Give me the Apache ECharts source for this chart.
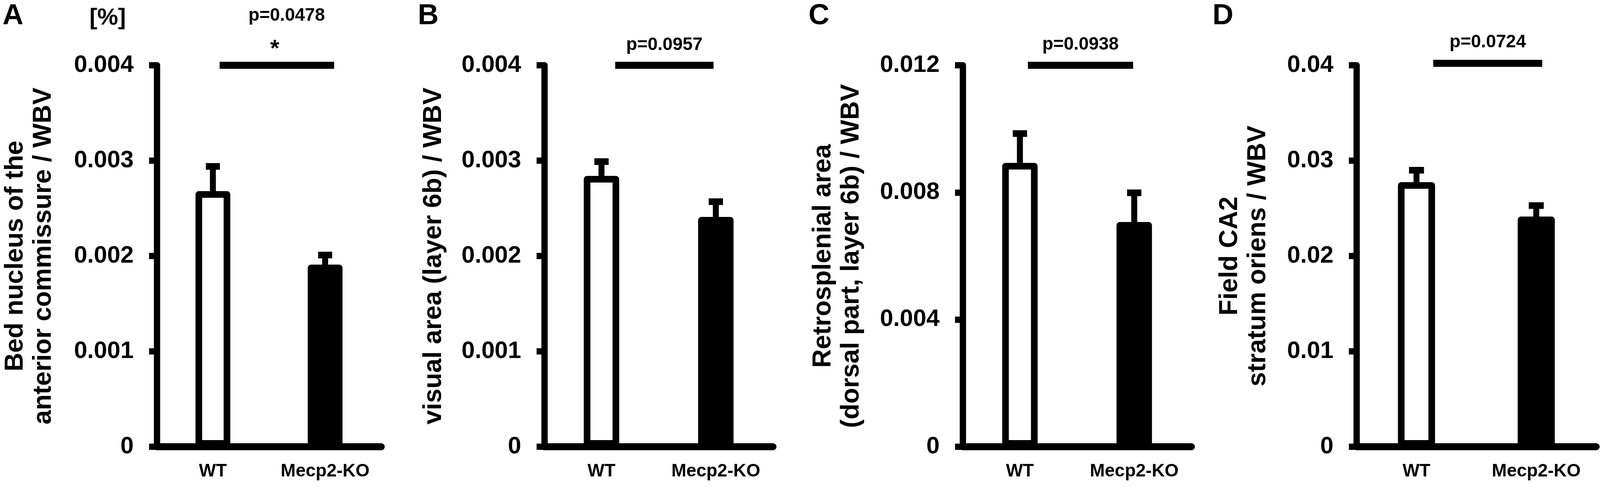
<!DOCTYPE html>
<html>
<head>
<meta charset="utf-8">
<script src="https://cdn.jsdelivr.net/npm/echarts@6/dist/echarts.min.js"></script>
<style>
  html, body { margin: 0; padding: 0; background: #fff; overflow: hidden; }
  #main { width: 100vw; height: 100vh; }
</style>
</head>
<body>
<div id="main"></div>
<script>
// data
var categories = ['WT', 'Mecp2-KO'];
var panelLetters = ['A', 'B', 'C', 'D'];
var yTitles = [
    'Bed nucleus of the\nanterior commissure / WBV',
    'visual area (layer 6b) / WBV',
    'Retrosplenial area\n(dorsal part, layer 6b) / WBV',
    'Field CA2\nstratum oriens / WBV'
];
var meansA = [0.00268, 0.00191];
var semA = [0.00026, 0.00010];
var meansB = [0.00284, 0.00241];
var semB = [0.00015, 0.00016];
var meansC = [0.00893, 0.00707];
var semC = [0.00092, 0.00092];
var meansD = [0.02775, 0.02414];
var semD = [0.00125, 0.00115];
var yMax = [0.004, 0.004, 0.012, 0.04];
var yInterval = [0.001, 0.001, 0.004, 0.01];
var pValues = ['p=0.0478', 'p=0.0957', 'p=0.0938', 'p=0.0724'];
var sigMarks = ['*', '', '', ''];
var sigY = [0.004, 0.004, 0.012, 0.0402];

var means = [meansA, meansB, meansC, meansD];
var sems = [semA, semB, semC, semD];

// layout measured on the 4562x1246 figure, scaled to the real window
var W = window.innerWidth, H = window.innerHeight;
var sx = W / 4562, sy = H / 1246;
var layout = [
    { left: 447, width: 640, gap: 283, sig: [0.06, 1.08], pDy: -127, letter: [37, 42] },
    { left: 1552, width: 652, gap: 275, sig: [0.12, 0.98], pDy: -52, letter: [1221, 42] },
    { left: 2745, width: 652, gap: 277, sig: [0.07, 0.99], pDy: -53, letter: [2335, 42] },
    { left: 3868, width: 683, gap: 241, sig: [0.14, 1.05], pDy: -54, letter: [3487, 42] }
];
var FONT = '"Liberation Sans", Arial, sans-serif';
var LW = 17;

var chart = echarts.init(document.getElementById('main'));

function errorBar(params, api) {
    var x = api.value(0), m = api.value(1), e = api.value(2);
    var base = api.coord([x, m]);
    var top = api.coord([x, m + e]);
    var band = api.size([1, 0])[0];
    var capW = band * 0.125;
    var sw = 17 * sx, ch = 17 * sy;
    return {
        type: 'group',
        children: [
            { type: 'rect', shape: { x: base[0] - sw / 2, y: top[1], width: sw, height: base[1] - top[1] }, style: { fill: '#000' } },
            { type: 'rect', shape: { x: base[0] - capW / 2, y: top[1] - ch / 2, width: capW, height: ch }, style: { fill: '#000' } }
        ]
    };
}

function sigBar(i) {
    return function (params, api) {
        var y = api.value(1);
        var p0 = api.coord([0, y]);
        var p1 = api.coord([1, y]);
        var band = p1[0] - p0[0];
        var x0 = p0[0] + layout[i].sig[0] * band;
        var x1 = p0[0] + layout[i].sig[1] * band;
        var cx = (x0 + x1) / 2;
        var th = 18 * sy;
        var kids = [
            { type: 'rect', shape: { x: x0, y: p0[1] - th / 2, width: x1 - x0, height: th }, style: { fill: '#000' } },
            { type: 'text', x: cx + (i === 0 ? 28 * sx : 0), y: p0[1] + layout[i].pDy * sy,
              style: { text: pValues[i], align: 'center', verticalAlign: 'middle', font: 'bold 46px ' + FONT, fill: '#000' } }
        ];
        if (sigMarks[i]) {
            kids.push({ type: 'text', x: cx - 6 * sx, y: p0[1] - 41 * sy,
                style: { text: sigMarks[i], align: 'center', verticalAlign: 'middle', font: 'bold 60px ' + FONT, fill: '#000' } });
        }
        return { type: 'group', children: kids };
    };
}

var grids = [], xAxes = [], yAxes = [], series = [], graphics = [];
for (var i = 0; i < 4; i++) {
    grids.push({ left: layout[i].left * sx, width: layout[i].width * sx, top: 167 * sy, bottom: 103 * sy, outerBoundsMode: 'none' });
    xAxes.push({
        type: 'category', gridIndex: i, data: categories,
        axisLine: { lineStyle: { color: '#000', width: 18 * sy } },
        axisTick: { show: false },
        axisLabel: { interval: 0, hideOverlap: false, margin: 40 * sy, fontSize: 46, fontWeight: 'bold', fontFamily: FONT, color: '#000' }
    });
    yAxes.push({
        type: 'value', gridIndex: i, min: 0, max: yMax[i], interval: yInterval[i],
        splitLine: { show: false },
        axisLine: { show: true, lineStyle: { color: '#000', width: 18 * sx } },
        axisTick: { show: true, length: 22 * sx, lineStyle: { color: '#000', width: 16 * sy } },
        axisLabel: { margin: 66 * sx, fontSize: 61, fontWeight: 'bold', fontFamily: FONT, color: '#000' },
        name: yTitles[i], nameLocation: 'middle', nameRotate: 90, nameGap: layout[i].gap * sx,
        nameTextStyle: { fontSize: 66, fontWeight: 'bold', fontFamily: FONT, color: '#000', lineHeight: 80 * sx }
    });
    series.push({
        type: 'bar', xAxisIndex: i, yAxisIndex: i, barWidth: '31%', silent: true,
        data: means[i].map(function (v, j) {
            return { value: v, itemStyle: { color: j === 0 ? '#fff' : '#000' } };
        }),
        itemStyle: { borderColor: '#000', borderWidth: LW, borderJoin: 'round' }
    });
    series.push({
        type: 'custom', xAxisIndex: i, yAxisIndex: i, z: 3, silent: true,
        data: means[i].map(function (v, j) { return [j, v, sems[i][j]]; }),
        renderItem: errorBar
    });
    series.push({
        type: 'custom', xAxisIndex: i, yAxisIndex: i, z: 3, silent: true,
        data: [[0, sigY[i]]],
        renderItem: sigBar(i)
    });
    graphics.push({
        type: 'text', x: layout[i].letter[0] * sx, y: layout[i].letter[1] * sy,
        style: { text: panelLetters[i], align: 'center', verticalAlign: 'middle', font: 'bold 74px ' + FONT, fill: '#000' }
    });
}
graphics.push({
    type: 'text', x: 307 * sx, y: 46 * sy,
    style: { text: '[%]', align: 'center', verticalAlign: 'middle', font: 'bold 60px ' + FONT, fill: '#000' }
});

chart.setOption({
    animation: false,
    backgroundColor: '#fff',
    grid: grids,
    xAxis: xAxes,
    yAxis: yAxes,
    series: series,
    graphic: graphics
});
</script>
</body>
</html>
